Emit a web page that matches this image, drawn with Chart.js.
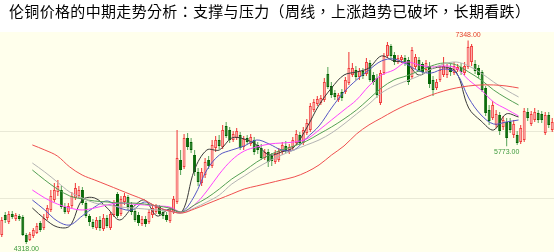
<!DOCTYPE html>
<html><head><meta charset="utf-8">
<script src="https://cdn.jsdelivr.net/npm/chart.js@4.4.0/dist/chart.umd.min.js"></script>
<style>html,body{margin:0;padding:0;background:#fff;}#wrap{width:554px;height:252px;}</style>
</head><body><div id="wrap"><canvas id="c" width="554" height="252"></canvas></div>
<script>
const title = "伦铜价格的中期走势分析：支撑与压力（周线，上涨趋势已破坏，长期看跌）";

const opens = [4450,4748,4644,4763,4689,4734,4719,4450,4376,4436,
4480,4629,4555,4704,4823,4972,5091,5121,4868,4793,
4883,5002,5032,5121,4927,4734,4644,4555,4674,4540,
4704,4555,4748,5061,4763,4942,5017,4898,4808,4748,
4614,4689,4644,4748,4793,4868,4793,4748,4659,4793,
4942,5568,5464,5896,5836,5642,5389,5225,5344,5568,
5479,5747,5866,5762,6075,6015,5866,5896,5940,5762,
5896,5806,5866,5792,5747,5598,5687,5628,5538,5568,
5687,5777,5687,5747,5821,5940,5821,5970,6015,6313,
6402,6417,6462,6849,6671,6566,6462,6581,6581,6715,
6834,6909,6805,6894,6849,7013,6834,6790,6417,6864,
7118,7267,7132,7028,7058,7088,7058,6805,6954,7058,
6998,6909,6969,6760,6641,6760,6834,6834,6939,6864,
6909,6954,6864,6954,7028,6998,6939,6879,6641,6313,
6194,6090,6238,6060,6134,6134,5940,5940,5836,5866,
6283,6104,6164,6268,6253,5970,6238,6015];
const closes = [4674,4674,4763,4719,4748,4689,4450,4346,4465,4525,
4585,4525,4704,4853,5032,5121,5181,4868,4793,4883,
5032,5151,5121,4927,4734,4644,4570,4674,4555,4704,
4585,4763,4898,4734,4987,5032,4868,4793,4674,4629,
4689,4614,4793,4853,4868,4763,4734,4674,4823,4987,
5598,5419,5896,5762,5717,5389,5240,5389,5538,5479,
5792,5866,5777,6015,5926,5866,5955,6000,5747,5881,
5836,5911,5687,5717,5598,5687,5538,5553,5672,5702,
5792,5702,5762,5866,5955,5821,6015,6119,6373,6432,
6477,6492,6730,6656,6536,6507,6536,6492,6760,6939,
6939,6805,6894,6820,7028,6760,6730,6536,6864,7118,
7282,7118,7028,7088,7103,7013,6730,7207,7103,6909,
6879,7013,6700,6611,6730,6909,6969,6939,6879,6969,
6954,6879,6969,7252,7267,6894,6834,6611,6268,6149,
6388,6253,6000,6164,5896,6015,6104,5821,6045,6298,
6194,6253,6283,6164,6164,6238,6090,6134];
const highs = [4719,4793,4808,4808,4778,4763,4748,4480,4495,4555,
4629,4659,4763,4898,5121,5225,5270,5181,4927,4927,
5091,5225,5181,5166,4957,4763,4689,4719,4734,4763,
4748,4793,4972,5091,5032,5076,5046,4942,4853,4793,
4734,4734,4838,4883,4912,4898,4838,4793,4868,5032,
6015,5717,5955,5970,5896,5717,5449,5449,5598,5628,
5866,5926,5940,6090,6134,6060,6000,6045,5985,5926,
5940,5955,5911,5836,5806,5732,5732,5672,5717,5747,
5836,5851,5806,5911,6015,5985,6060,6179,6417,6477,
6522,6536,6790,6954,6730,6611,6566,6626,6805,7177,
7013,6969,6939,6939,7088,7058,6879,6849,6909,7162,
7326,7296,7177,7132,7132,7132,7103,7252,7147,7103,
7028,7058,7028,6820,6775,6969,7103,6998,6998,7028,
6998,7013,7028,7348,7296,7058,6984,6909,6671,6388,
6447,6313,6283,6224,6194,6194,6164,6000,6090,6343,
6343,6298,6343,6313,6298,6283,6283,6194];
const lows = [4421,4629,4614,4689,4659,4659,4436,4318,4361,4406,
4465,4495,4525,4674,4793,4942,5032,4838,4763,4763,
4853,4972,5002,4898,4704,4585,4540,4525,4510,4510,
4555,4525,4719,4704,4734,4898,4823,4748,4644,4585,
4585,4570,4614,4704,4763,4734,4689,4644,4629,4763,
4912,5344,5434,5717,5672,5330,5181,5181,5300,5434,
5449,5687,5732,5732,5896,5821,5836,5866,5717,5717,
5792,5777,5642,5657,5568,5568,5464,5479,5508,5538,
5642,5672,5657,5717,5792,5792,5792,5940,5985,6283,
6373,6388,6432,6626,6492,6462,6432,6447,6551,6686,
6805,6760,6760,6775,6820,6730,6686,6492,6388,6834,
7088,7073,6984,6998,7013,6969,6686,6775,6924,6879,
6834,6864,6641,6522,6611,6730,6805,6790,6820,6834,
6879,6834,6834,6924,6969,6849,6790,6581,6224,6090,
6164,6045,5940,6015,5773,5970,5896,5792,5806,5836,
6149,6075,6134,6119,6119,5940,6045,5985];

// moving averages, read at every 4th week
const maIndex = [0,4,8,12,16,20,24,28,32,36,40,44,48,52,56,60,64,68,72,76,80,84,88,92,96,100,104,108,112,116,120,124,128,132,136,140,144,148,152,156];
const ma5 = [4853,4689,4570,4585,4972,5002,4853,4674,4853,4972,4734,4838,4793,5419,5717,5717,5896,5881,5792,5642,5687,5762,6045,6388,6641,6834,6879,6939,7118,7043,7013,6834,6924,6954,6879,6343,6149,6015,6253,6209];
const ma10 = [4972,4823,4659,4600,4734,4868,4957,4853,4823,4942,4868,4808,4793,5032,5419,5642,5717,5777,5866,5806,5717,5717,5896,6075,6343,6581,6760,6909,7043,7073,6998,6894,6864,6924,6864,6492,6238,6104,6134,6164];
const ma20 = [5121,5002,4912,4853,4823,4853,4898,4927,4912,4898,4883,4868,4793,4898,5106,5359,5568,5702,5762,5806,5821,5836,5881,6015,6164,6313,6462,6671,6834,6909,7028,6984,6954,6969,6939,6760,6611,6432,6328,6224];
const ma40 = [5419,5270,5136,5032,4987,4957,4942,4927,4927,4912,4883,4853,4793,4898,5002,5136,5285,5404,5538,5642,5717,5777,5851,5955,6060,6179,6313,6477,6641,6760,6820,6894,6969,7013,6984,6879,6760,6611,6492,6388];
const ma60 = [5523,5389,5240,5091,5002,4927,4898,4868,4853,4838,4823,4808,4778,4853,4942,5046,5210,5330,5449,5553,5642,5717,5792,5866,5970,6104,6253,6402,6566,6671,6745,6820,6924,6998,7028,6969,6864,6730,6611,6507];
const ma120 = [5792,5717,5628,5464,5344,5270,5196,5121,5046,4972,4868,4808,4778,4838,4912,4987,5061,5136,5181,5225,5270,5315,5389,5494,5642,5777,5955,6090,6194,6298,6388,6462,6536,6596,6641,6671,6686,6686,6671,6641];

const gridValues = [5000, 6000];
const highMarks = [133];
const lowMarks = [7, 144];

const upFill = '#FFB4B4', upLine = '#F03C3C';
const dnFill = '#006400', dnWick = '#5FA85F';

const isUp = opens.map((o, i) => closes[i] >= o);

const deco = {
  id: 'deco',
  beforeDraw(chart) {
    const {ctx, chartArea: a, scales} = chart;
    ctx.save();
    ctx.fillStyle = '#ffffff';
    ctx.fillRect(0, 0, chart.width, chart.height);
    ctx.fillStyle = '#FFFFEC';
    ctx.fillRect(a.left, a.top, a.right - a.left, a.bottom - a.top);
    ctx.strokeStyle = '#E9E9D6';
    ctx.lineWidth = 1;
    gridValues.forEach(v => {
      const y = Math.round(scales.y.getPixelForValue(v)) + 0.5;
      ctx.beginPath(); ctx.moveTo(a.left, y); ctx.lineTo(a.right, y); ctx.stroke();
    });
    ctx.fillStyle = '#000';
    ctx.font = '15px "Noto Sans CJK TC"';
    ctx.textBaseline = 'middle';
    ctx.textAlign = 'left';
    const w = ctx.measureText(title).width;
    const target = 521;
    if ('letterSpacing' in ctx && w < target) {
      ctx.letterSpacing = ((target - w) / (title.length - 1)).toFixed(2) + 'px';
    }
    ctx.fillText(title, 9, 11);
    ctx.restore();
  },
  afterDraw(chart) {
    const {ctx, scales} = chart;
    const meta = chart.getDatasetMeta(1);
    ctx.save();
    ctx.font = '7px "Liberation Sans"';
    ctx.textAlign = 'center';
    highMarks.forEach(i => {
      const x = meta.data[i].x;
      const y = scales.y.getPixelForValue(highs[i]);
      ctx.fillStyle = '#E4402F';
      ctx.textBaseline = 'bottom';
      ctx.fillText(highs[i].toFixed(2), x, y - 2);
    });
    lowMarks.forEach(i => {
      const x = meta.data[i].x;
      const y = scales.y.getPixelForValue(lows[i]);
      ctx.fillStyle = '#3E9A3E';
      ctx.textBaseline = 'top';
      ctx.fillText(lows[i].toFixed(2), x, y + 2);
    });
    ctx.restore();
  }
};

function maSet(values, color) {
  return {
    type: 'line', xAxisID: 'x2', yAxisID: 'y',
    data: maIndex.map((x, k) => ({x: x, y: values[k]})),
    borderColor: color, borderWidth: 1, pointRadius: 0, tension: 0.35,
    fill: false, order: 1
  };
}

new Chart(document.getElementById('c'), {
  type: 'bar',
  data: {
    labels: opens.map((_, i) => i),
    datasets: [
      {
        type: 'bar', xAxisID: 'x', yAxisID: 'y',
        data: highs.map((h, i) => [lows[i], h]),
        backgroundColor: isUp.map(u => u ? upLine : dnWick),
        barPercentage: 0.3, categoryPercentage: 1, grouped: false, order: 20
      },
      {
        type: 'bar', xAxisID: 'x', yAxisID: 'y',
        data: opens.map((o, i) => [o, closes[i]]),
        backgroundColor: isUp.map(u => u ? upFill : dnFill),
        borderColor: isUp.map(u => u ? upLine : dnFill),
        borderWidth: 1, borderSkipped: false,
        barPercentage: 0.85, categoryPercentage: 1, grouped: false, order: 10
      },
      maSet(ma120, '#F05050'),
      maSet(ma60, '#B4B4B4'),
      maSet(ma40, '#55A055'),
      maSet(ma20, '#FF44FF'),
      maSet(ma10, '#5656C4'),
      maSet(ma5, '#3A3A3A')
    ]
  },
  options: {
    responsive: false, animation: false, devicePixelRatio: 1,
    layout: {padding: {top: 32, left: 0, right: 0, bottom: 0}},
    plugins: {legend: {display: false}, tooltip: {enabled: false}, title: {display: false}},
    scales: {
      x: {type: 'category', display: false, offset: true},
      x2: {type: 'linear', display: false, min: -0.5, max: opens.length - 0.5},
      y: {type: 'linear', display: false, min: 4197, max: 7475}
    }
  },
  plugins: [deco]
});
</script></body></html>
